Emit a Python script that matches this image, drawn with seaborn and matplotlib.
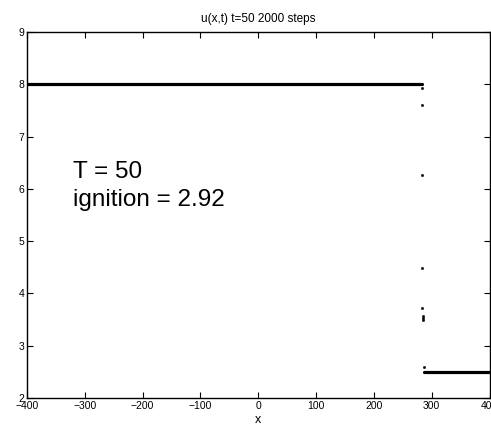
import matplotlib
matplotlib.use('Agg')
import matplotlib.pyplot as plt
import seaborn as sns
import numpy as np
import pandas as pd

# burnt state behind the front, unburnt state ahead of it
x_burnt = [-400, 283]
u_burnt = [8.0, 8.0]
x_fresh = [287, 400]
u_fresh = [2.5, 2.5]

# isolated points inside the front
x_front = [284, 284, 284, 284, 284, 284.5, 284.8, 285, 286]
u_front = [7.93, 7.60, 6.26, 4.48, 3.73, 3.57, 3.53, 3.50, 2.60]

xticks = [-400, -300, -200, -100, 0, 100, 200, 300, 400]
yticks = [2, 3, 4, 5, 6, 7, 8, 9]

sns.set_style('ticks')
plt.rcParams['font.family'] = ['Liberation Sans', 'DejaVu Sans']
plt.rcParams['xtick.direction'] = 'in'
plt.rcParams['ytick.direction'] = 'in'
plt.rcParams['text.color'] = 'black'
plt.rcParams['axes.labelcolor'] = 'black'
plt.rcParams['xtick.color'] = 'black'
plt.rcParams['ytick.color'] = 'black'
plt.rcParams['axes.edgecolor'] = 'black'

fig = plt.figure(figsize=(4.91, 4.26), dpi=100)
ax = fig.add_axes([27 / 491, 28 / 426, 462.5 / 491, 366 / 426])

sns.lineplot(x=x_burnt, y=u_burnt, color='black', linewidth=2.3, ax=ax)
sns.lineplot(x=x_fresh, y=u_fresh, color='black', linewidth=2.3, ax=ax)
sns.scatterplot(x=x_front, y=u_front, color='black', s=3, edgecolor='black',
                linewidth=0.3, ax=ax)

ax.set_xlim(-400, 400)
ax.set_ylim(2, 9)
ax.set_xticks(xticks)
ax.set_yticks(yticks)
ax.set_xticklabels(['\u2212400', '\u2212300', '\u2212200', '\u2212100', '0',
                    '100', '200', '300', '400'])
ax.tick_params(axis='both', labelsize=7.5, length=4, width=0.8,
               top=True, right=True, pad=2)
for s in ax.spines.values():
    s.set_linewidth(1.0)
    s.set_visible(True)

ax.set_xlabel('x', fontsize=9, labelpad=2)
ax.set_title('u(x,t) t=50 2000 steps', fontsize=8.5, pad=7)

ax.text(-321, 6.21, 'T = 50', fontsize=17.5)
ax.text(-321, 5.68, 'ignition = 2.92', fontsize=17.5)

fig.savefig('out.png', dpi=100, facecolor='white')
